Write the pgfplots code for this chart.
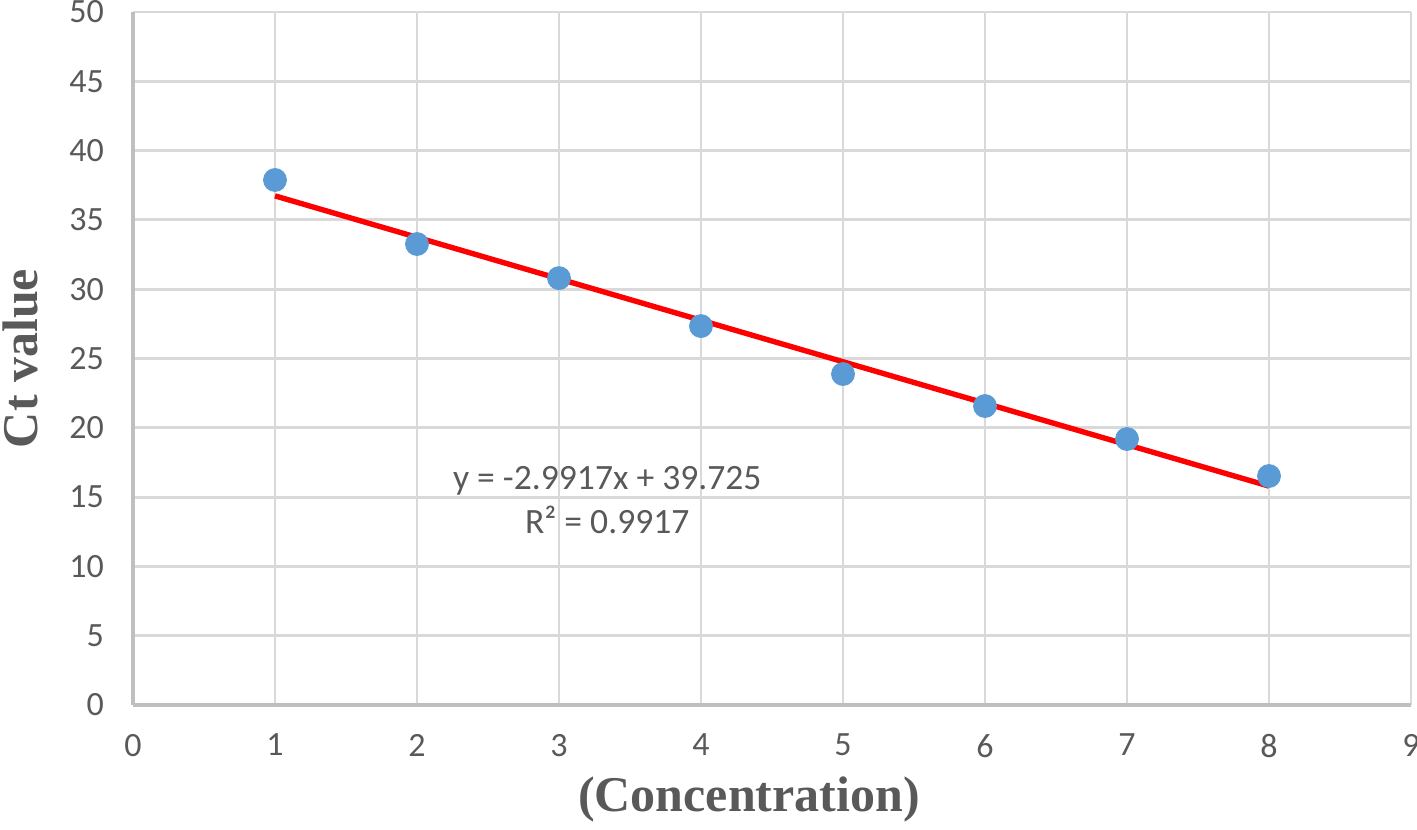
\documentclass[border=0pt]{standalone}
\usepackage{fontspec}
\setmainfont{Carlito}
\newfontfamily\tnr{Liberation Serif}
\usepackage{pgfplots}
\pgfplotsset{compat=1.18}
\definecolor{txtgray}{HTML}{595959}
\definecolor{gridgray}{HTML}{D9D9D9}
\definecolor{axgray}{HTML}{BFBFBF}
\definecolor{ptblue}{HTML}{5B9BD5}
\begin{document}
\begin{tikzpicture}
\begin{axis}[
  name=ax, at={(0,0)}, anchor=south west,
  scale only axis, width=639pt, height=346.5pt,
  xmin=0, xmax=9, ymin=0, ymax=50,
  xtick={0,1,...,9}, ytick={0,5,...,50},
  grid=major, major grid style={gridgray, line width=1.4pt},
  axis lines=left, axis line style={-, axgray, line width=1.7pt},
  major tick length=0pt,
  tick label style={font=\fontsize{17}{20}\selectfont, text=txtgray},
  /pgf/number format/assume math mode=true,
  xticklabel style={yshift=-11pt},
  yticklabel style={xshift=-11pt},
  xlabel={\tnr\bfseries (Concentration)},
  ylabel={\tnr\bfseries Ct value},
  label style={font=\fontsize{25}{30}\selectfont, text=txtgray},
  xlabel style={at={(rel axis cs:0.482,0)}, anchor=center, yshift=-47pt},
  ylabel style={at={(rel axis cs:0,0.5)}, anchor=center, rotate=0, yshift=56.5pt},
  clip=false,
]
\addplot[only marks, mark=*, mark size=5.75pt, mark options={fill=ptblue, draw=ptblue}] coordinates {
(1,37.88) (2,33.26) (3,30.8) (4,27.34) (5,23.88) (6,21.57) (7,19.19) (8,16.52)
};
\addplot[red, line width=2.7pt] coordinates {(1,36.7333) (8,15.7914)};
\node[align=center, font=\fontsize{17.8}{22}\selectfont, text=txtgray] at (axis cs:3.34,14.75) {y = -2.9917x + 39.725\\R² = 0.9917};
\end{axis}
\pgfresetboundingbox
\path[use as bounding box] ([xshift=-66.5pt,yshift=-62pt]ax.south west) rectangle ([xshift=3pt,yshift=6pt]ax.north east);
\end{tikzpicture}
\end{document}
